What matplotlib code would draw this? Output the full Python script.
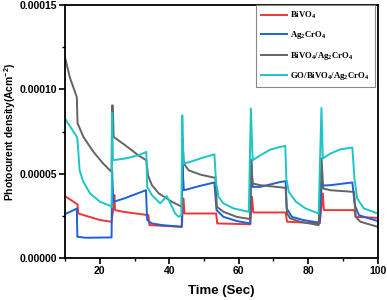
import matplotlib
matplotlib.use('Agg')
import matplotlib.pyplot as plt
from matplotlib.ticker import MultipleLocator, FormatStrFormatter
import numpy as np

plt.rcParams['font.family'] = ['Liberation Sans', 'DejaVu Sans']
plt.rcParams['mathtext.default'] = 'regular'

# 读图得到的数据 (单位 1e-5 A/cm^2)
t_bivo4 = [10.0, 13.6, 13.8, 16.2, 20.1, 23.4, 24.0, 24.2, 24.4, 26.8, 34.0, 34.3, 43.6,
           44.1, 44.4, 53.5, 53.8, 63.3, 63.8, 64.2, 73.5, 73.9, 79.0, 83.3, 84.2, 84.5,
           93.3, 93.6, 100.0]
j_bivo4 = [3.67, 3.18, 2.64, 2.49, 2.25, 2.15, 3.14, 3.73, 2.84, 2.74, 2.54, 1.95, 1.85,
           3.53, 2.64, 2.64, 2.05, 2.00, 3.63, 2.70, 2.70, 2.15, 2.10, 2.05, 3.83, 2.84,
           2.84, 2.44, 2.38]

t_ag = [10.0, 12.9, 13.4, 13.55, 16.0, 23.4, 23.55, 23.9, 27.0, 33.3, 33.65, 35.0, 38.0,
        43.6, 43.8, 44.2, 45.7, 48.9, 53.0, 53.6, 55.6, 59.5, 63.3, 63.6, 64.0, 66.2,
        72.0, 73.5, 73.8, 75.3, 78.6, 83.3, 83.9, 84.3, 86.4, 92.7, 93.4, 94.6, 100.0]
j_ag = [2.60, 2.88, 2.94, 1.26, 1.20, 1.22, 5.20, 3.33, 3.53, 4.02, 2.25, 2.05, 1.95,
        1.85, 5.50, 4.02, 4.10, 4.28, 4.48, 2.84, 2.44, 2.19, 2.05, 5.80, 4.22, 4.22,
        4.51, 4.56, 2.94, 2.44, 2.25, 2.09, 4.55, 4.30, 4.32, 4.48, 3.14, 2.54, 2.19]

t_comp = [10.0, 11.4, 13.4, 13.6, 15.3, 18.2, 21.0, 23.4, 23.55, 23.75, 24.0, 27.3, 31.1,
          33.4, 33.9, 35.0, 37.0, 40.8, 43.6, 43.8, 44.2, 45.6, 48.9, 53.3, 53.7, 55.6,
          59.4, 63.3, 63.55, 64.0, 66.2, 73.5, 73.9, 74.8, 77.7, 83.0, 83.85, 84.3, 86.4,
          93.2, 93.7, 95.0, 100.0]
j_comp = [11.9, 10.7, 9.54, 8.00, 7.18, 6.29, 5.60, 5.10, 9.05, 9.05, 7.18, 6.69, 6.09,
          5.80, 4.90, 4.32, 3.83, 3.33, 3.04, 7.08, 5.60, 5.20, 4.95, 4.75, 3.04, 2.74,
          2.44, 2.31, 5.80, 4.42, 4.32, 4.16, 2.64, 2.35, 2.15, 1.95, 5.90, 4.12, 4.02,
          3.92, 2.44, 2.15, 1.85]

t_go = [10.0, 13.4, 13.6, 13.9, 14.2, 15.3, 17.2, 20.1, 23.0, 23.45, 23.55, 23.8, 27.3,
        31.1, 33.4, 33.65, 35.0, 37.4, 39.3, 40.3, 41.7, 42.7, 43.5, 43.75, 44.1, 46.0,
        48.9, 53.0, 53.5, 54.2, 55.6, 58.5, 62.9, 63.5, 64.0, 66.2, 69.1, 72.0, 73.4,
        73.7, 74.4, 76.5, 79.2, 83.0, 83.8, 84.2, 86.4, 89.3, 92.7, 93.3, 94.1, 96.0,
        100.0]
j_go = [8.27, 7.18, 6.98, 6.10, 5.20, 4.51, 3.83, 3.33, 3.10, 3.00, 8.60, 5.80, 5.90,
        6.09, 6.29, 4.22, 3.73, 3.24, 3.67, 3.24, 2.64, 2.44, 2.54, 8.46, 5.60, 5.70,
        5.90, 6.15, 4.42, 3.63, 3.24, 2.94, 2.74, 8.86, 5.80, 6.09, 6.43, 6.59, 6.65,
        4.72, 3.92, 3.33, 2.94, 2.64, 8.90, 5.90, 6.20, 6.45, 6.55, 4.72, 3.53, 2.94,
        2.64]

series = [
    (t_bivo4, j_bivo4, '#f03535', r'BiVO$_4$'),
    (t_ag, j_ag, '#1d60dc', r'Ag$_2$CrO$_4$'),
    (t_comp, j_comp, '#646464', r'BiVO$_4$/Ag$_2$CrO$_4$'),
    (t_go, j_go, '#1cc6c6', r'GO/BiVO$_4$/Ag$_2$CrO$_4$'),
]

fig = plt.figure(figsize=(3.87, 3.0), dpi=100)
ax = fig.add_axes([0.168, 0.14, 0.808, 0.843])

for t, j, c, lab in series:
    ax.plot(t, np.array(j) * 1e-5, color=c, lw=1.4, label=lab)

ax.set_xlim(10, 100)
ax.set_ylim(0, 0.00015)
ax.xaxis.set_major_locator(MultipleLocator(20))
ax.xaxis.set_minor_locator(MultipleLocator(10))
ax.yaxis.set_major_locator(MultipleLocator(0.00005))
ax.yaxis.set_minor_locator(MultipleLocator(0.000025))
ax.yaxis.set_major_formatter(FormatStrFormatter('%.5f'))

for s in ax.spines.values():
    s.set_linewidth(1.3)
ax.tick_params(which='major', length=4, width=1.2, labelsize=7.5, pad=2)
ax.tick_params(which='minor', length=2.5, width=1.0)
for lbl in ax.get_xticklabels() + ax.get_yticklabels():
    lbl.set_fontweight('bold')

ax.set_xlabel('Time (Sec)', fontsize=9.5, fontweight='bold', labelpad=6)
ax.set_ylabel(r'Photocurent density(Acm$^{-2}$)', fontsize=7.4, fontweight='bold', labelpad=1)

leg = ax.legend(loc='upper right', bbox_to_anchor=(0.99, 1.0), borderaxespad=0,
                prop={'family': 'Liberation Serif', 'weight': 'bold', 'size': 6.3},
                handlelength=3.0, labelspacing=0.95, fancybox=False, framealpha=1,
                edgecolor='#888888', borderpad=0.55, handletextpad=0.4)
leg.get_frame().set_linewidth(0.8)

fig.savefig('out.png', dpi=100)
